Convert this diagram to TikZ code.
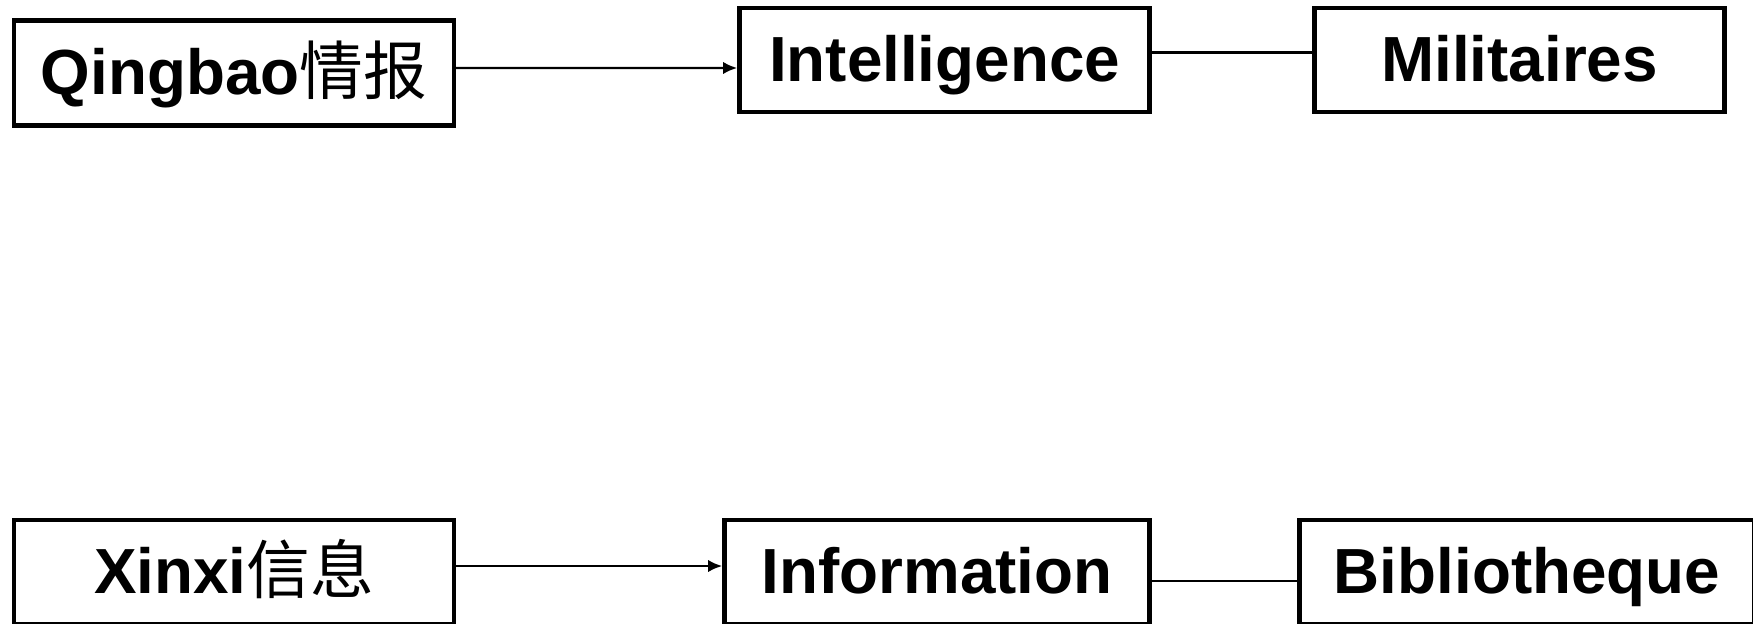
\documentclass[tikz,border=0pt]{standalone}
\usepackage{fontspec}
\setmainfont{Liberation Sans}
\newfontfamily\cjk{Noto Sans CJK SC}
\usetikzlibrary{arrows.meta}
\tikzset{
  box/.style={draw, line width=2.6pt, inner sep=0pt, minimum height=2.08cm,
    text height=25pt, text depth=0pt,
    font=\fontsize{36.3}{40}\selectfont\bfseries},
  link/.style={line width=1.4pt},
  arr/.style={link, -{Latex[length=8pt,width=7pt]}}
}
\begin{document}
\begin{tikzpicture}[x=0.02cm,y=0.02cm]
\useasboundingbox (0,0) rectangle (1753,623);
% top row
\node[box, minimum width=8.8cm, minimum height=2.1cm] (qing) at (234,550) {Qingbao{\cjk\mdseries 情报}};
\node[box, minimum width=8.2cm] (intel) at (944.5,563) {Intelligence};
\node[box, minimum width=8.2cm] (mil) at (1519.5,563) {Militaires};
% bottom row
\node[box, minimum width=8.8cm] (xin) at (234,51) {Xinxi{\cjk\mdseries 信息}};
\node[box, minimum width=8.5cm] (info) at (937,51) {Information};
\node[box, minimum width=9.1cm] (bib) at (1527,51) {Bibliotheque};
% connectors
\draw[arr] ([yshift=0.1cm]qing.east) -- ([yshift=-0.16cm]intel.west);
\draw[link] ([yshift=0.15cm]intel.east) -- ([yshift=0.15cm]mil.west);
\draw[arr] ([yshift=0.12cm]xin.east) -- ([yshift=0.12cm]info.west);
\draw[link] ([yshift=-0.18cm]info.east) -- ([yshift=-0.18cm]bib.west);
\end{tikzpicture}
\end{document}
